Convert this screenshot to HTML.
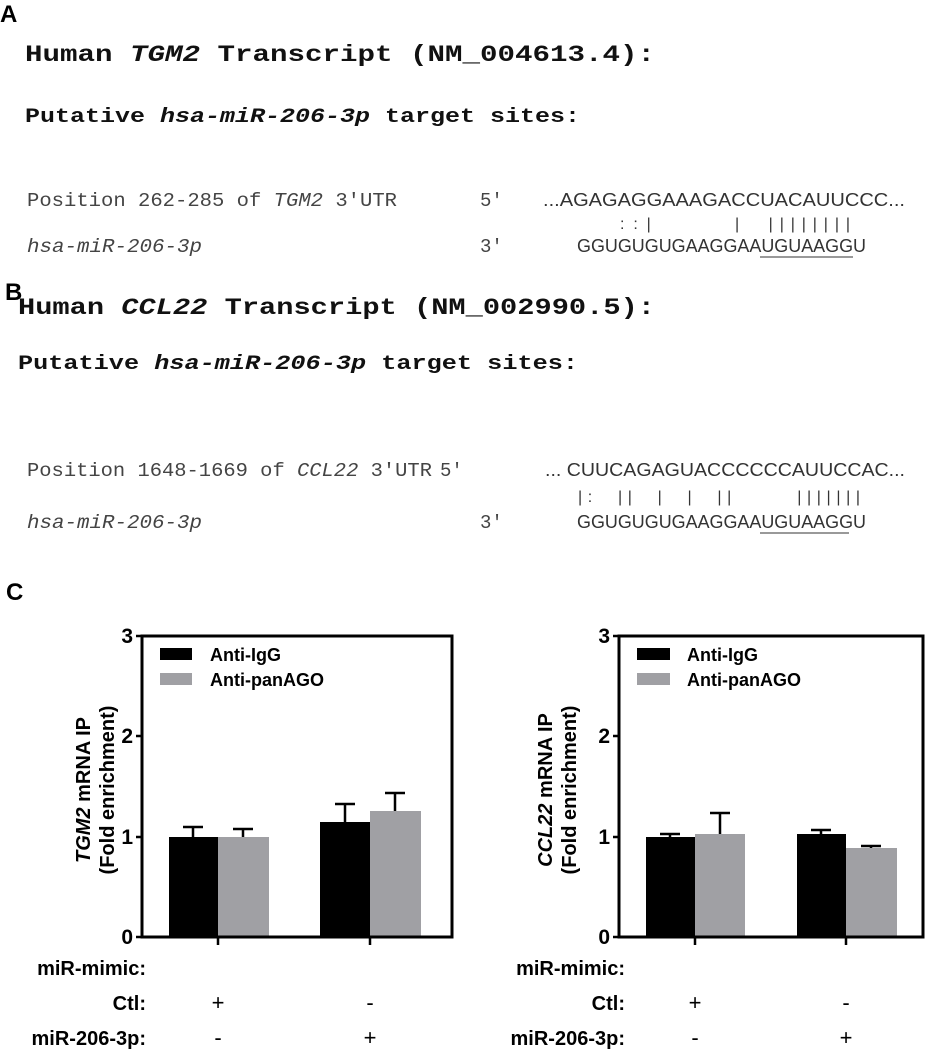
<!DOCTYPE html>
<html><head><meta charset="utf-8"><style>body{margin:0;background:#fff}svg{display:block}</style></head><body>
<svg width="925" height="1050" xmlns="http://www.w3.org/2000/svg" font-family="Liberation Sans, sans-serif">
<g font-weight="bold" font-size="24">
<text x="0" y="22">A</text><text x="5" y="300">B</text><text x="6" y="600">C</text>
</g>
<g font-family="Liberation Mono, monospace" font-weight="bold" fill="#111">
<text x="25" y="61" font-size="23" textLength="630" lengthAdjust="spacingAndGlyphs">Human <tspan font-style="italic">TGM2</tspan> Transcript (NM_004613.4):</text>
<text x="25" y="122" font-size="20" textLength="555" lengthAdjust="spacingAndGlyphs">Putative <tspan font-style="italic">hsa-miR-206-3p</tspan> target sites:</text>
<text x="18" y="314" font-size="23" textLength="637" lengthAdjust="spacingAndGlyphs">Human <tspan font-style="italic">CCL22</tspan> Transcript (NM_002990.5):</text>
<text x="18" y="369" font-size="20" textLength="560" lengthAdjust="spacingAndGlyphs">Putative <tspan font-style="italic">hsa-miR-206-3p</tspan> target sites:</text>
</g>
<g font-family="Liberation Mono, monospace" font-size="19" fill="#444">
<text x="27" y="206" textLength="370" lengthAdjust="spacingAndGlyphs">Position 262-285 of <tspan font-style="italic">TGM2</tspan> 3'UTR</text>
<text x="480" y="206">5'</text>
<text x="27" y="252" font-style="italic" textLength="175" lengthAdjust="spacingAndGlyphs">hsa-miR-206-3p</text>
<text x="480" y="252">3'</text>
<text x="27" y="476" textLength="405" lengthAdjust="spacingAndGlyphs">Position 1648-1669 of <tspan font-style="italic">CCL22</tspan> 3'UTR</text>
<text x="440" y="476">5'</text>
<text x="27" y="528" font-style="italic" textLength="175" lengthAdjust="spacingAndGlyphs">hsa-miR-206-3p</text>
<text x="480" y="528">3'</text>
</g>
<g font-size="18" fill="#333">
<text x="543" y="206" textLength="362" lengthAdjust="spacingAndGlyphs">...AGAGAGGAAAGACCUACAUUCCC...</text>
<text x="620" y="229" font-size="16" xml:space="preserve">:  :  |</text>
<text x="735" y="229" font-size="16" textLength="115" lengthAdjust="spacing" xml:space="preserve">|  ||||||||</text>
<text x="577" y="252" textLength="289" lengthAdjust="spacingAndGlyphs">GGUGUGUGAAGGAAUGUAAGGU</text>
<line x1="760" y1="257" x2="853" y2="257" stroke="#333" stroke-width="1"/>
<text x="545" y="476" textLength="360" lengthAdjust="spacingAndGlyphs">... CUUCAGAGUACCCCCCAUUCCAC...</text>
<text x="578" y="502" font-size="16" textLength="282" lengthAdjust="spacing" xml:space="preserve">|:  ||  |  |  ||      |||||||</text>
<text x="577" y="528" textLength="289" lengthAdjust="spacingAndGlyphs">GGUGUGUGAAGGAAUGUAAGGU</text>
<line x1="760" y1="533" x2="849" y2="533" stroke="#333" stroke-width="1"/>
</g>

<!-- Chart 1 -->
<g>
<rect x="169" y="837" width="49" height="100" fill="#000"/>
<rect x="218" y="837" width="51" height="100" fill="#a0a0a4"/>
<rect x="320" y="822" width="50" height="115" fill="#000"/>
<rect x="370" y="811" width="51" height="126" fill="#a0a0a4"/>
<g stroke="#000" stroke-width="2.5" fill="none">
<path d="M193 837V827M183 827H203M243 837V829M233 829H253M345 822V804M335 804H355M395 811V793M385 793H405"/>
<path d="M142 636H452V937H142Z" stroke-width="3"/>
<path d="M136 636H142M136 736H142M136 837H142M136 937H142M218 937V945M370 937V945"/>
</g>
<rect x="160" y="648" width="32" height="12" fill="#000"/>
<rect x="160" y="673" width="32" height="12" fill="#a0a0a4"/>
<g font-weight="bold" font-size="18"><text x="210" y="661">Anti-IgG</text><text x="210" y="686">Anti-panAGO</text></g>
<g font-weight="bold" font-size="21" text-anchor="end"><text x="133" y="643">3</text><text x="133" y="743">2</text><text x="133" y="844">1</text><text x="133" y="944">0</text></g>
<g font-weight="bold" font-size="20" text-anchor="middle">
<text transform="translate(90 790) rotate(-90)"><tspan font-style="italic">TGM2</tspan> mRNA IP</text>
<text transform="translate(114 790) rotate(-90)">(Fold enrichment)</text>
</g>
<g font-weight="bold" font-size="20">
<text x="146" y="975" text-anchor="end">miR-mimic:</text>
<text x="146" y="1010" text-anchor="end">Ctl:</text>
<text x="146" y="1045" text-anchor="end">miR-206-3p:</text>
<g text-anchor="middle" font-weight="normal" font-size="22"><text x="218" y="1010">+</text><text x="370" y="1010">-</text><text x="218" y="1045">-</text><text x="370" y="1045">+</text></g>
</g>
</g>

<!-- Chart 2 -->
<g>
<rect x="646" y="837" width="49" height="100" fill="#000"/>
<rect x="695" y="834" width="50" height="103" fill="#a0a0a4"/>
<rect x="797" y="834" width="49" height="103" fill="#000"/>
<rect x="846" y="848" width="51" height="89" fill="#a0a0a4"/>
<g stroke="#000" stroke-width="2.5" fill="none">
<path d="M670 837V834M660 834H680M720 834V813M710 813H730M821 834V830M811 830H831M871 848V846M861 846H881"/>
<path d="M619 636H923V937H619Z" stroke-width="3"/>
<path d="M613 636H619M613 736H619M613 837H619M613 937H619M695 937V945M846 937V945"/>
</g>
<rect x="637" y="648" width="33" height="12" fill="#000"/>
<rect x="637" y="673" width="33" height="12" fill="#a0a0a4"/>
<g font-weight="bold" font-size="18"><text x="687" y="661">Anti-IgG</text><text x="687" y="686">Anti-panAGO</text></g>
<g font-weight="bold" font-size="21" text-anchor="end"><text x="610" y="643">3</text><text x="610" y="743">2</text><text x="610" y="844">1</text><text x="610" y="944">0</text></g>
<g font-weight="bold" font-size="20" text-anchor="middle">
<text transform="translate(552 790) rotate(-90)"><tspan font-style="italic">CCL22</tspan> mRNA IP</text>
<text transform="translate(576 790) rotate(-90)">(Fold enrichment)</text>
</g>
<g font-weight="bold" font-size="20">
<text x="625" y="975" text-anchor="end">miR-mimic:</text>
<text x="625" y="1010" text-anchor="end">Ctl:</text>
<text x="625" y="1045" text-anchor="end">miR-206-3p:</text>
<g text-anchor="middle" font-weight="normal" font-size="22"><text x="695" y="1010">+</text><text x="846" y="1010">-</text><text x="695" y="1045">-</text><text x="846" y="1045">+</text></g>
</g>
</g>
</svg>
</body></html>
